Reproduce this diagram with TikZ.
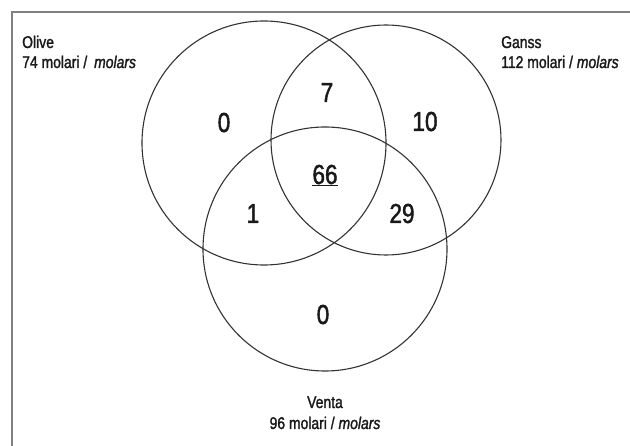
\documentclass[tikz,border=0pt]{standalone}
\usepackage{fontspec}
\setmainfont{Liberation Sans}[FakeStretch=0.82, FakeBold=1.5]
\begin{document}
\begin{tikzpicture}[x=1pt,y=-1pt,
  ring/.style={draw=black!80, line width=1.1pt},
  framel/.style={draw=black!50, line width=2pt},
  lbl/.style={inner sep=0pt, font=\fontsize{17}{20}\selectfont, text=black!90},
  num/.style={inner sep=0pt, anchor=base, font=\fontsize{27.5}{30}\selectfont, text=black!90}]
\useasboundingbox (0,0) rectangle (630,446);
\fill[white] (0,0) rectangle (630,446);
% frame (top and left edges)
\coordinate (fbl) at (12,446);
\coordinate (ftl) at (12,12);
\coordinate (ftr) at (630,12);
\draw[framel] (fbl) -- (ftl) -- (ftr);
% circles
\coordinate (olive) at (264,143);
\coordinate (ganss) at (386,140);
\coordinate (venta) at (325,249);
\draw[ring] (olive) circle (122);
\draw[ring] (ganss) circle (115);
\draw[ring] (venta) circle (122);
% labels
\node[lbl, anchor=base west] (ol1) at (22,48) {Olive};
\node[lbl, anchor=base west] (ol2) at (22,68) {74 molari /\hspace{3pt} \textit{molars}};
\node[lbl, anchor=base west] (ga1) at (501,48) {Ganss};
\node[lbl, anchor=base west] (ga2) at (501,68) {112 molari / \textit{molars}};
\node[lbl, anchor=base] (ve1) at (325,408) {Venta};
\node[lbl, anchor=base] (ve2) at (325,429) {96 molari / \textit{molars}};
% region counts
\node[num] (oonly) at (224,132) {0};
\node[num] (og) at (327,102) {7};
\node[num] (gonly) at (425,131) {10};
\node[num] (all) at (325,184) {\underline{66}};
\node[num] (ov) at (253,223) {1};
\node[num] (gv) at (402,223) {29};
\node[num] (vonly) at (323,324) {0};
\end{tikzpicture}
\end{document}
